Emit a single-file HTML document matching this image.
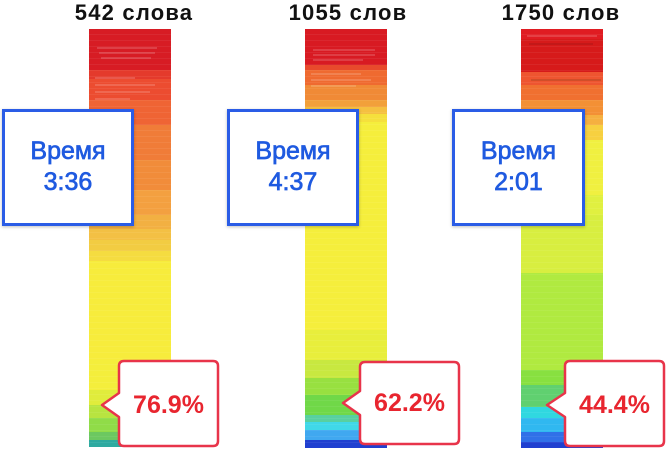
<!DOCTYPE html>
<html><head><meta charset="utf-8">
<style>
html,body{margin:0;padding:0;background:#fff;}
body{width:666px;height:450px;position:relative;overflow:hidden;font-family:"Liberation Sans",sans-serif;}
.t{position:absolute;top:0;height:26px;font-weight:bold;font-size:22px;letter-spacing:1.2px;color:#111;text-align:center;line-height:26px;white-space:nowrap;}
.s{position:absolute;top:29px;width:82px;}
.tex{position:absolute;left:0;top:0;right:0;bottom:0;background:repeating-linear-gradient(to bottom,rgba(255,255,255,0) 0,rgba(255,255,255,0) 5px,rgba(255,255,255,0.06) 5px,rgba(255,255,255,0.06) 6px);}
.b{position:absolute;top:109px;height:111px;background:#fff;border:3px solid #2a5ce6;box-shadow:0 1px 3px rgba(0,0,0,0.25);}
.bt{position:absolute;left:0;right:0;text-align:center;color:#1f5ae0;font-size:25px;line-height:30px;-webkit-text-stroke:0.7px #1f5ae0;}
.p{position:absolute;font-weight:bold;font-size:25px;color:#e8252f;text-align:center;line-height:30px;}
.ln{position:absolute;height:2px;background:rgba(255,255,255,0.16);}
</style></head><body>

<div class="t" style="left:64px;width:140px;">542 слова</div>
<div class="t" style="left:278px;width:140px;">1055 слов</div>
<div class="t" style="left:491px;width:140px;">1750 слов</div>

<!-- strip 1 -->
<div class="s" style="left:89px;height:418px;background:linear-gradient(to bottom,
#d71c24 0px,#d71c24 41px,#e43a2c 41px,#e43a2c 50px,#ec4c30 50px,#ec4c30 71px,#ef6434 71px,#ef6434 96px,#f07c38 96px,#f07c38 131px,#f18c3a 131px,#f18c3a 161px,#f3a040 161px,#f3a040 186px,#f2b042 186px,#f2b042 200px,#f3c044 200px,#f3c044 211px,#f2cc42 211px,#f2cc42 222px,#f5dc40 222px,#f5dc40 232px,#f7ec3c 232px,#f7ec3c 331px,#f4ee3c 331px,#f4ee3c 361px,#e0ec3c 361px,#e0ec3c 376px,#b8e440 376px,#b8e440 389px,#90dc48 389px,#90dc48 403px,#6cc860 403px,#6cc860 411px,#2eaaa0 411px,#2eaaa0 418px);">
<div class="tex"></div>
<div class="ln" style="left:8px;width:60px;top:18px;"></div>
<div class="ln" style="left:10px;width:56px;top:23px;"></div>
<div class="ln" style="left:12px;width:50px;top:28px;"></div>
<div class="ln" style="left:6px;width:40px;top:48px;"></div>
<div class="ln" style="left:6px;width:60px;top:55px;"></div>
<div class="ln" style="left:6px;width:55px;top:62px;"></div>
<div class="ln" style="left:6px;width:35px;top:69px;"></div>
</div>

<!-- strip 2 -->
<div class="s" style="left:305px;height:419px;background:linear-gradient(to bottom,
#d81a22 0px,#d81a22 36px,#e84a2c 36px,#e84a2c 41px,#ef6a30 41px,#ef6a30 56px,#f08a36 56px,#f08a36 71px,#f2a03a 71px,#f2a03a 78px,#f5c040 78px,#f5c040 85px,#f5e03c 85px,#f5e03c 93px,#f5ee3c 93px,#f5ee3c 301px,#e8ee3c 301px,#e8ee3c 331px,#c8e840 331px,#c8e840 349px,#98e040 349px,#98e040 366px,#70d848 366px,#70d848 386px,#58d0a0 386px,#58d0a0 393px,#40d8e8 393px,#40d8e8 401px,#40a8f0 401px,#40a8f0 411px,#2040d0 411px,#2040d0 419px);">
<div class="tex"></div>
<div class="ln" style="left:8px;width:62px;top:20px;"></div>
<div class="ln" style="left:8px;width:62px;top:25px;"></div>
<div class="ln" style="left:8px;width:50px;top:30px;"></div>
<div class="ln" style="left:6px;width:50px;top:44px;"></div>
<div class="ln" style="left:6px;width:60px;top:50px;"></div>
<div class="ln" style="left:6px;width:45px;top:56px;"></div>
</div>

<!-- strip 3 -->
<div class="s" style="left:521px;height:419px;background:linear-gradient(to bottom,
#e01c22 0px,#e01c22 10px,#d61a1a 10px,#d61a1a 43px,#ee5530 43px,#ee5530 56px,#f07030 56px,#f07030 71px,#f39035 71px,#f39035 86px,#f5b040 86px,#f5b040 96px,#f7d040 96px,#f7d040 111px,#f0f040 111px,#f0f040 166px,#e0f040 166px,#e0f040 186px,#d8ee40 186px,#d8ee40 244px,#b0ea40 244px,#b0ea40 341px,#88e040 341px,#88e040 356px,#60d070 356px,#60d070 378px,#30d8e0 378px,#30d8e0 389px,#30b8f0 389px,#30b8f0 403px,#3070e8 403px,#3070e8 413px,#2040d0 413px,#2040d0 419px);">
<div class="tex"></div>
<div class="ln" style="left:6px;width:70px;top:6px;"></div>
<div class="ln" style="left:8px;width:64px;top:14px;background:rgba(120,20,20,0.2);"></div>
<div class="ln" style="left:10px;width:70px;top:50px;background:rgba(120,60,20,0.25);"></div>
</div>

<!-- blue boxes -->
<div class="b" style="left:2px;width:126px;">
  <div class="bt" style="top:24px;">Время</div>
  <div class="bt" style="top:55px;">3:36</div>
</div>
<div class="b" style="left:227px;width:126px;">
  <div class="bt" style="top:24px;">Время</div>
  <div class="bt" style="top:55px;">4:37</div>
</div>
<div class="b" style="left:452px;width:127px;">
  <div class="bt" style="top:24px;">Время</div>
  <div class="bt" style="top:55px;">2:01</div>
</div>

<!-- callouts -->
<svg width="666" height="450" style="position:absolute;left:0;top:0;" xmlns="http://www.w3.org/2000/svg">
<g fill="#fff" stroke="#e8344a" stroke-width="2.5" stroke-linejoin="round">
<path d="M124,361 H213 Q218,361 218,366 V441 Q218,446 213,446 H124 Q119,446 119,441 V417 L102,405 L119,393 V366 Q119,361 124,361 Z"/>
<path d="M365,362 H454 Q459,362 459,367 V439 Q459,444 454,444 H365 Q360,444 360,439 V415 L343,403 L360,391 V367 Q360,362 365,362 Z"/>
<path d="M570,361 H659 Q664,361 664,366 V441 Q664,446 659,446 H570 Q565,446 565,441 V417 L547,405 L565,393 V366 Q565,361 570,361 Z"/>
</g>
</svg>
<div class="p" style="left:119px;width:99px;top:390px;">76.9%</div>
<div class="p" style="left:360px;width:99px;top:388px;">62.2%</div>
<div class="p" style="left:565px;width:99px;top:390px;">44.4%</div>

</body></html>
